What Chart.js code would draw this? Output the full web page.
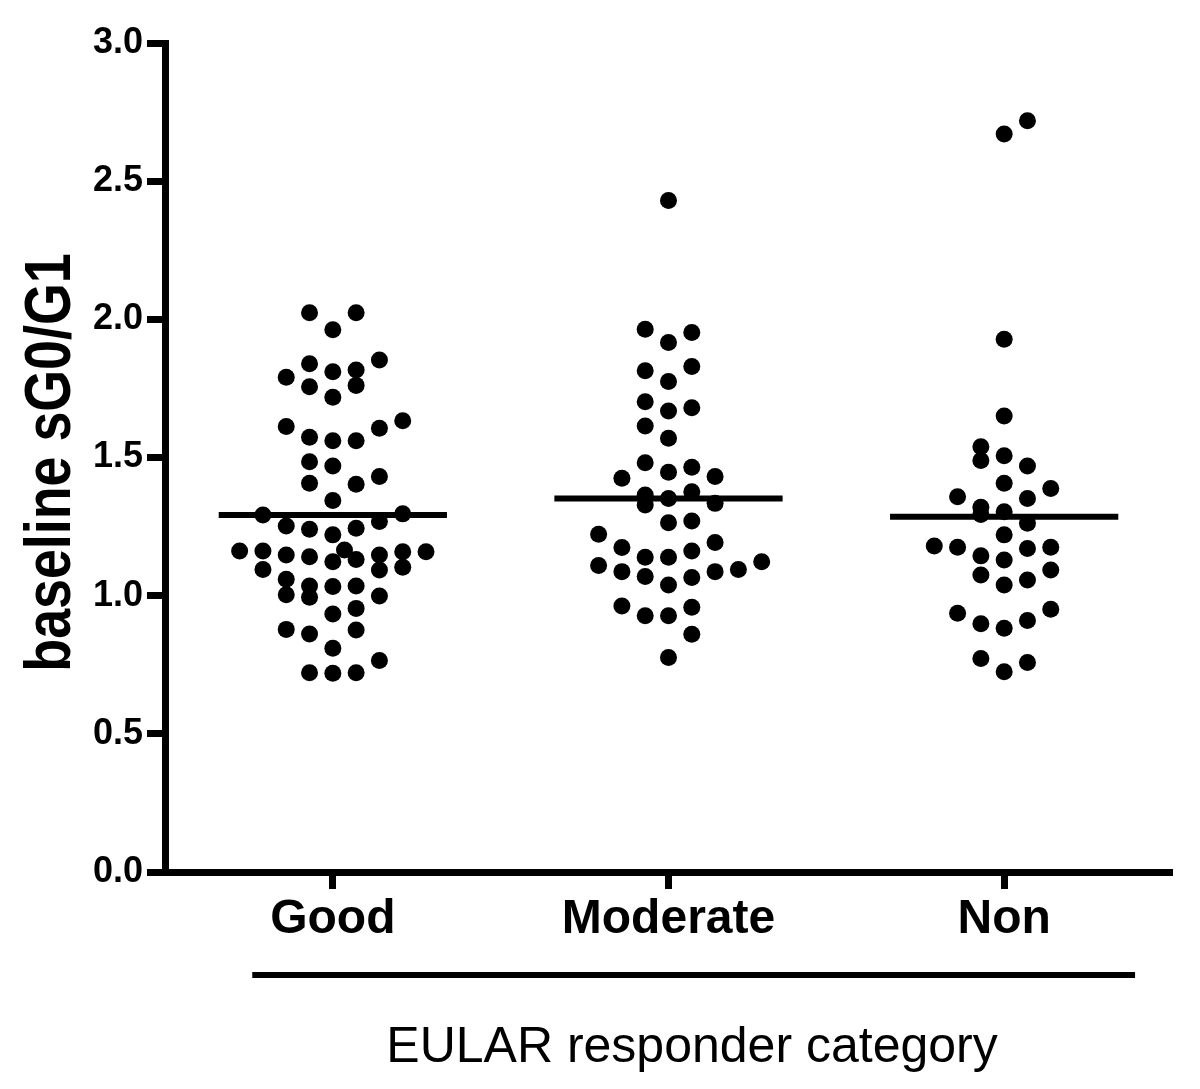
<!DOCTYPE html>
<html>
<head>
<meta charset="utf-8">
<script src="https://cdn.jsdelivr.net/npm/chart.js@4/dist/chart.umd.min.js"></script>
<style>
  body { margin: 0; background: #fff; }
  #wrap { width: 1200px; height: 1089px; }
</style>
</head>
<body>
<div id="wrap"><canvas id="chart" width="1200" height="1089"></canvas></div>
<script>
// Data

const categories = ['Good', 'Moderate', 'Non'];

const yTicks = [0, 0.5, 1.0, 1.5, 2.0, 2.5, 3.0];

// baseline sG0/G1 per patient, with the column (slot) each dot sits in
const goodValues = [2.024, 2.024, 1.962, 1.853, 1.839, 1.790, 1.810, 1.817, 1.756, 1.761,
  1.718, 1.612, 1.633, 1.606, 1.573, 1.561, 1.561, 1.485, 1.469, 1.431,
  1.407, 1.403, 1.344, 1.292, 1.296, 1.252, 1.268, 1.240, 1.220, 1.244,
  1.162, 1.162, 1.147, 1.141, 1.165, 1.123, 1.131, 1.147, 1.159, 1.159,
  1.095, 1.093, 1.103, 1.059, 1.035, 1.033, 1.035, 1.003, 0.994, 0.999,
  0.954, 0.934, 0.878, 0.861, 0.876, 0.810, 0.765, 0.721, 0.719, 0.721];
const goodSlots = [-1, 1, 0, 2, -1, -2, 0, 1, -1, 1,
  0, -2, 3, 2, -1, 0, 1, -1, 0, 2,
  -1, 1, 0, -3, 3, -2, 2, -1, 0, 1,
  -4, -3, -2, -1, 0.5, 0, 1, 2, 3, 4,
  -3, 2, 3, -2, -1, 0, 1, -2, -1, 2,
  1, 0, -2, -1, 1, 0, 2, -1, 0, 1];

const moderateValues = [2.430, 1.964, 1.952, 1.916, 1.814, 1.829, 1.775, 1.702, 1.668, 1.680,
  1.614, 1.570, 1.481, 1.447, 1.465, 1.425, 1.431, 1.364, 1.352, 1.376,
  1.328, 1.334, 1.264, 1.270, 1.222, 1.174, 1.192, 1.162, 1.139, 1.139,
  1.109, 1.087, 1.069, 1.039, 1.066, 1.087, 1.095, 1.123, 0.963, 0.927,
  0.927, 0.958, 0.860, 0.776];
const moderateSlots = [0, -1, 1, 0, -1, 1, 0, -1, 0, 1,
  -1, 0, -1, 0, 1, -2, 2, -1, 0, 1,
  -1, 2, 0, 1, -3, -2, 2, 1, -1, 0,
  -3, -2, -1, 0, 1, 2, 3, 4, -2, -1,
  0, 1, 1, 0];

const nonValues = [2.719, 2.671, 1.928, 1.650, 1.539, 1.489, 1.506, 1.469, 1.407, 1.388,
  1.358, 1.352, 1.320, 1.304, 1.294, 1.262, 1.220, 1.180, 1.175, 1.171,
  1.175, 1.144, 1.129, 1.093, 1.075, 1.057, 1.039, 0.951, 0.936, 0.910,
  0.898, 0.882, 0.773, 0.758, 0.725];
const nonSlots = [1, 0, 0, 0, -1, -1, 0, 1, 0, 2,
  -2, 1, -1, 0, -1, 1, 0, -3, -2, 1,
  2, -1, 0, 2, -1, 1, 0, 2, -2, 1,
  -1, 0, -1, 1, 0];

// group means (horizontal bars)
const means = [1.292, 1.352, 1.286];

const groupValues = [goodValues, moderateValues, nonValues];
const groupSlots = [goodSlots, moderateSlots, nonSlots];

const FONT = "'Liberation Sans', Arial, sans-serif";
const slotWidth = 0.0694; // one dot column, in category units
const barHalf = 0.34;

// Build datasets
let datasets = [];

groupValues.forEach(function (vals, g) {
  datasets.push({
    data: vals.map(function (v, i) { return { x: g + groupSlots[g][i] * slotWidth, y: v }; }),
    backgroundColor: '#000',
    borderWidth: 0,
    pointRadius: 8.5,
    pointHoverRadius: 8.5
  });
});

means.forEach(function (m, g) {
  datasets.push({
    data: [{ x: g - barHalf, y: m }, { x: g + barHalf, y: m }],
    showLine: true,
    borderColor: '#000',
    borderWidth: 6,
    pointRadius: 0,
    borderCapStyle: 'butt'
  });
});

// y title is condensed in the original, draw it by hand. Same for the x title (sits off centre)
const extras = {
  id: 'extras',
  afterDraw(chart) {
    const ctx = chart.ctx;
    const xs = chart.scales.x;
    const area = chart.chartArea;

    ctx.save();
    ctx.translate(70, (area.top + area.bottom) / 2 + 5);
    ctx.rotate(-Math.PI / 2);
    ctx.scale(0.84, 1);
    ctx.font = 'bold 64px ' + FONT;
    ctx.fillStyle = '#000';
    ctx.textAlign = 'center';
    ctx.textBaseline = 'alphabetic';
    ctx.fillText('baseline sG0/G1', 0, 0);
    ctx.restore();

    // underline under the category labels
    ctx.save();
    ctx.strokeStyle = '#000';
    ctx.lineWidth = 6;
    ctx.beginPath();
    ctx.moveTo(xs.getPixelForValue(-0.24), area.bottom + 103);
    ctx.lineTo(xs.getPixelForValue(2.39), area.bottom + 103);
    ctx.stroke();
    ctx.restore();

    // x title
    ctx.save();
    ctx.font = '50px ' + FONT;
    ctx.fillStyle = '#000';
    ctx.textAlign = 'center';
    ctx.textBaseline = 'alphabetic';
    ctx.fillText('EULAR responder category', xs.getPixelForValue(1.07), area.bottom + 190);
    ctx.restore();
  }
};

const chart = new Chart(document.getElementById('chart'), {
  type: 'scatter',
  data: { datasets: datasets },
  plugins: [extras],
  options: {
    responsive: false,
    animation: false,
    layout: { padding: { top: 43, right: 28, left: 0, bottom: 0 } },
    plugins: { legend: { display: false }, tooltip: { enabled: false } },
    scales: {
      x: {
        type: 'linear',
        min: -0.5,
        max: 2.5,
        afterBuildTicks: function (s) { s.ticks = categories.map(function (c, i) { return { value: i }; }); },
        afterFit: function (s) { s.height = 217; },
        ticks: {
          callback: function (v) { return categories[v]; },
          font: { family: FONT, size: 48, weight: 'bold' },
          color: '#000',
          padding: 2,
          maxRotation: 0,
          autoSkip: false
        },
        grid: { drawOnChartArea: false, tickLength: 17, tickWidth: 7, tickColor: '#000' },
        border: { color: '#000', width: 7 }
      },
      y: {
        min: 0,
        max: 3,
        afterBuildTicks: function (s) { s.ticks = yTicks.map(function (v) { return { value: v }; }); },
        afterFit: function (s) { s.width = 165; },
        ticks: {
          callback: function (v) { return v.toFixed(1); },
          font: { family: FONT, size: 36, weight: 'bold' },
          color: '#000',
          padding: 4
        },
        grid: { drawOnChartArea: false, tickLength: 18, tickWidth: 7, tickColor: '#000' },
        border: { color: '#000', width: 7 }
      }
    }
  }
});
</script>
</body>
</html>
